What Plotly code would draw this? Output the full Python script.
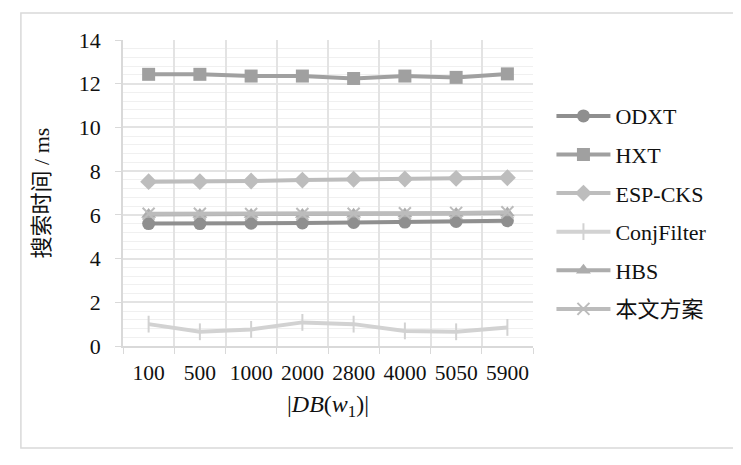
import plotly.graph_objects as go

sizes = ["100", "500", "1000", "2000", "2800", "4000", "5050", "5900"]

odxt = [5.60, 5.60, 5.62, 5.63, 5.65, 5.67, 5.70, 5.73]
hxt = [12.43, 12.43, 12.35, 12.35, 12.24, 12.35, 12.29, 12.45]
esp_cks = [7.52, 7.52, 7.55, 7.59, 7.63, 7.64, 7.67, 7.70]
conj_filter = [1.00, 0.65, 0.76, 1.08, 1.00, 0.69, 0.65, 0.85]
hbs = [6.02, 6.02, 6.02, 6.02, 6.03, 6.04, 6.06, 6.08]
ours = [6.05, 6.05, 6.04, 6.04, 6.05, 6.07, 6.09, 6.12]

# serif latin text, CJK falls back to Noto
FONT = "Liberation Serif, Noto Sans CJK SC"

series = [
    ("ODXT", odxt, "#8f8f8f", "circle"),
    ("HXT", hxt, "#a0a0a0", "square"),
    ("ESP-CKS", esp_cks, "#bdbdbd", "diamond"),
    ("ConjFilter", conj_filter, "#d2d2d2", "line-ns"),
    ("HBS", hbs, "#adadad", "triangle-up"),
    ("本文方案", ours, "#bcbcbc", "x-thin"),
]

fig = go.Figure()
for i, (name, vals, col, sym) in enumerate(series):
    mk = dict(symbol=sym, size=13, color=col)
    if sym in ("line-ns", "x-thin"):
        mk = dict(symbol=sym, size=12, color=col, line=dict(color=col, width=2))
    fig.add_trace(go.Scatter(
        x=sizes, y=vals, name=name, mode="lines+markers",
        line=dict(color=col, width=4),
        marker=mk,
        legendgroup=str(i),
    ))

# page body has an 8px margin, so the figure is 8px smaller than the window
fig.update_layout(
    width=733, height=457,
    margin=dict(l=115, r=208, t=32, b=119),
    paper_bgcolor="white", plot_bgcolor="white",
    font=dict(family=FONT, size=22, color="#111111"),
    showlegend=True,
    legend=dict(
        x=1.045, y=0.82, xanchor="left", yanchor="top",
        tracegroupgap=7, itemwidth=54,
        font=dict(family=FONT, size=22),
    ),
    xaxis=dict(
        type="category", tickson="boundaries",
        showgrid=True, gridcolor="#e3e3e3", gridwidth=1.5,
        ticks="outside", ticklen=6, tickcolor="#d9d9d9",
        ticklabelstandoff=6, tickangle=0,
        tickfont=dict(size=21.5),
        showline=True, linecolor="#d9d9d9", linewidth=1.5,
        range=[-0.5, 7.5],
        title=dict(text="|<i>DB</i>(<i>w</i><sub>1</sub>)|", standoff=12,
                   font=dict(family=FONT, size=24)),
    ),
    yaxis=dict(
        range=[0, 14], dtick=2,
        showgrid=True, gridcolor="#e3e3e3", gridwidth=1.5,
        minor=dict(dtick=0.4, showgrid=True, gridcolor="#f0f0f0", gridwidth=1),
        ticks="outside", ticklen=6, tickcolor="#d9d9d9",
        ticklabelstandoff=10,
        showline=True, linecolor="#d9d9d9", linewidth=1.5,
        zeroline=False,
        title=dict(text="搜索时间 / ms", standoff=23,
                   font=dict(family=FONT, size=22)),
    ),
    shapes=[dict(
        type="rect", xref="paper", yref="paper",
        x0=-0.249, x1=1.495, y0=-0.333, y1=1.088,
        line=dict(color="#d9d9d9", width=1.5), layer="below",
    )],
)

fig.write_html("out.html")
